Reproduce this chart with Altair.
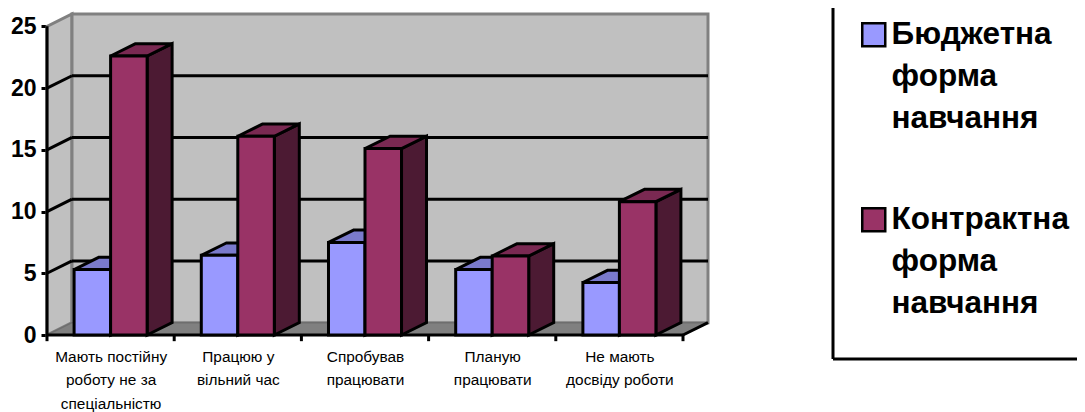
import altair as alt
import pandas as pd

categories = [
    "Мають постійну|роботу не за|спеціальністю",
    "Працюю у|вільний час",
    "Спробував|працювати",
    "Планую|працювати",
    "Не мають|досвіду роботи",
]
series_names = ["Бюджетна форма навчання", "Контрактна форма навчання"]
budget = [5.3, 6.45, 7.5, 5.3, 4.25]
contract = [22.6, 16.1, 15.1, 6.4, 10.8]
y_ticks = [0, 5, 10, 15, 20, 25]

front_colors = ["#9999FF", "#993366"]
top_colors = ["#7A7ACC", "#7A2952"]
side_colors = ["#4C4C80", "#4C1A33"]

DEPTH_X = 25 / 127.2   # depth of the 3-D box, in category units
DEPTH_Y = 1.0          # depth of the 3-D box, in value units
N = len(categories)
Y_MAX = 25
BAR_START = 0.213
BAR_W = 0.287

x_scale = alt.Scale(domain=[0, N + DEPTH_X], nice=False, zero=False)
y_scale = alt.Scale(domain=[0, Y_MAX + DEPTH_Y], nice=False, zero=False)
LW = 3

x_axis = alt.Axis(
    values=[i + 0.5 for i in range(N)],
    labelExpr="split(" + str(categories) + "[floor(datum.value)], '|')",
    ticks=False, domain=False, grid=False,
    labelFont="Liberation Sans", labelFontSize=15.4, labelColor="black",
    labelPadding=21, labelLineHeight=23.5, labelOverlap=False, labelBound=False,
    labelFlush=False, labelAngle=0, labelBaseline="middle", labelLimit=300,
)
y_axis = alt.Axis(
    values=y_ticks, domain=False, grid=False, tickColor="black", tickWidth=LW,
    tickSize=6, labelFont="Liberation Sans", labelFontWeight="bold", labelFontSize=23,
    labelColor="black", labelPadding=5, labelOverlap=False, labelBound=False,
    labelFlush=False,
)


def X(field="x", **kw):
    return alt.X(field, type="quantitative", scale=x_scale, axis=x_axis, title=None, **kw)


def Y(field="y", **kw):
    return alt.Y(field, type="quantitative", scale=y_scale, axis=y_axis, title=None, **kw)


# ---- box: walls, floor, gridlines
left_wall = alt.Chart(pd.DataFrame({
    "x": [0, DEPTH_X], "y": [0, DEPTH_Y], "y2": [Y_MAX, Y_MAX + DEPTH_Y]
})).mark_area(fill="#C0C0C0", stroke="#808080", strokeWidth=LW, orient="vertical").encode(
    x=X(), y=Y(), y2="y2")

back_wall = alt.Chart(pd.DataFrame({
    "x": [DEPTH_X], "x2": [N + DEPTH_X], "y": [DEPTH_Y], "y2": [Y_MAX + DEPTH_Y]
})).mark_rect(fill="#C0C0C0", stroke="#808080", strokeWidth=LW).encode(
    x=X(), x2="x2", y=Y(), y2="y2")

floor = alt.Chart(pd.DataFrame({
    "y": [0, DEPTH_Y], "x": [0, DEPTH_X], "x2": [N, N + DEPTH_X]
})).mark_area(fill="#808080", stroke="#6E6E6E", strokeWidth=1.5, orient="horizontal").encode(
    y=Y(), x=X(), x2="x2")

grid_df = pd.DataFrame({"v": [t for t in y_ticks if 0 < t < Y_MAX]})
grid_df["x"] = DEPTH_X
grid_df["x2"] = N + DEPTH_X
grid_df["y"] = grid_df["v"] + DEPTH_Y
grid_back = alt.Chart(grid_df).mark_rule(color="black", strokeWidth=LW).encode(
    x=X(), x2="x2", y=Y())

grid_left_df = pd.DataFrame({"v": [t for t in y_ticks if 0 < t < Y_MAX]})
grid_left_df["x"] = 0
grid_left_df["x2"] = DEPTH_X
grid_left_df["y"] = grid_left_df["v"]
grid_left_df["y2"] = grid_left_df["v"] + DEPTH_Y
grid_left = alt.Chart(grid_left_df).mark_rule(color="black", strokeWidth=LW).encode(
    x=X(), x2="x2", y=Y(), y2="y2")

# ---- axes lines
y_axis_line = alt.Chart(pd.DataFrame({"x": [0], "y": [0], "y2": [Y_MAX]})).mark_rule(
    color="black", strokeWidth=LW
).encode(x=X(), y=Y(), y2="y2")

front_edge = alt.Chart(pd.DataFrame({"x": [0], "x2": [N], "y": [0]})).mark_rule(
    color="black", strokeWidth=LW).encode(x=X(), x2="x2", y=Y())
right_edge = alt.Chart(pd.DataFrame({"x": [N], "x2": [N + DEPTH_X], "y": [0], "y2": [DEPTH_Y]})).mark_rule(
    color="black", strokeWidth=LW).encode(x=X(), x2="x2", y=Y(), y2="y2")
x_ticks = alt.Chart(pd.DataFrame({"x": list(range(N + 1)), "y": [0.0] * (N + 1), "y2": [-0.5] * (N + 1)})).mark_rule(
    color="black", strokeWidth=LW).encode(x=X(), y=Y(), y2="y2")

# ---- bars
layers_bars = []
for s, values in enumerate([budget, contract]):
    side, top, front = [], [], []
    for i, v in enumerate(values):
        x0 = i + BAR_START + s * BAR_W
        x1 = x0 + BAR_W
        side += [
            {"g": i, "x": x1, "y": 0, "y2": v},
            {"g": i, "x": x1 + DEPTH_X, "y": DEPTH_Y, "y2": v + DEPTH_Y},
        ]
        top += [
            {"g": i, "y": v, "x": x0, "x2": x1},
            {"g": i, "y": v + DEPTH_Y, "x": x0 + DEPTH_X, "x2": x1 + DEPTH_X},
        ]
        front.append({"x": x0, "x2": x1, "y": 0, "y2": v, "series": series_names[s]})
    layers_bars.append(
        alt.Chart(pd.DataFrame(side)).mark_area(
            fill=side_colors[s], stroke="black", strokeWidth=LW, orient="vertical", strokeJoin="miter"
        ).encode(x=X(), y=Y(), y2="y2", detail="g:N")
    )
    layers_bars.append(
        alt.Chart(pd.DataFrame(top)).mark_area(
            fill=top_colors[s], stroke="black", strokeWidth=LW, orient="horizontal", strokeJoin="miter"
        ).encode(y=Y(), x=X(), x2="x2", detail="g:N")
    )
    layers_bars.append(
        alt.Chart(pd.DataFrame(front)).mark_rect(
            stroke="black", strokeWidth=LW, strokeJoin="miter", opacity=1
        ).encode(
            x=X(), x2="x2", y=Y(), y2="y2",
            fill=alt.Fill("series:N", scale=alt.Scale(domain=series_names, range=front_colors),
                          legend=alt.Legend(
                              title=None, orient="none", legendX=811, legendY=5,
                              symbolType="square", symbolSize=529, symbolStrokeColor="black",
                              symbolStrokeWidth=2.5, symbolOpacity=1, labelOffset=2,
                              labelFont="Liberation Sans", labelFontWeight="bold",
                              labelFontSize=31.5, labelColor="black", labelLimit=400,
                              labelExpr="split(datum.label, ' ')", rowPadding=68,
                          )),
        )
    )

# ---- legend frame (frame runs off the picture at the top and on the right)
frame_v = alt.Chart(pd.DataFrame({"k": [0]})).mark_rule(color="black", strokeWidth=LW).encode(
    x=alt.value(786), y=alt.value(-6), y2=alt.value(345))
frame_h = alt.Chart(pd.DataFrame({"k": [0]})).mark_rule(color="black", strokeWidth=LW).encode(
    x=alt.value(786), x2=alt.value(1040), y=alt.value(345))

chart = alt.layer(
    left_wall, back_wall, grid_back, grid_left, floor,
    y_axis_line, front_edge, right_edge, x_ticks,
    *layers_bars,
    frame_v, frame_h,
).resolve_scale(x="shared", y="shared").properties(
    width=661, height=321,
    padding={"left": 39, "top": 6, "right": 369, "bottom": 77},
    autosize=alt.AutoSizeParams(type="none"),
    background="white",
)
chart.config = alt.Config(
    view=alt.ViewConfig(stroke="transparent"),
    style={"guide-label": {"lineHeight": 42}},
)

chart.save("out.html", embed_options={"renderer": "svg", "actions": False})
